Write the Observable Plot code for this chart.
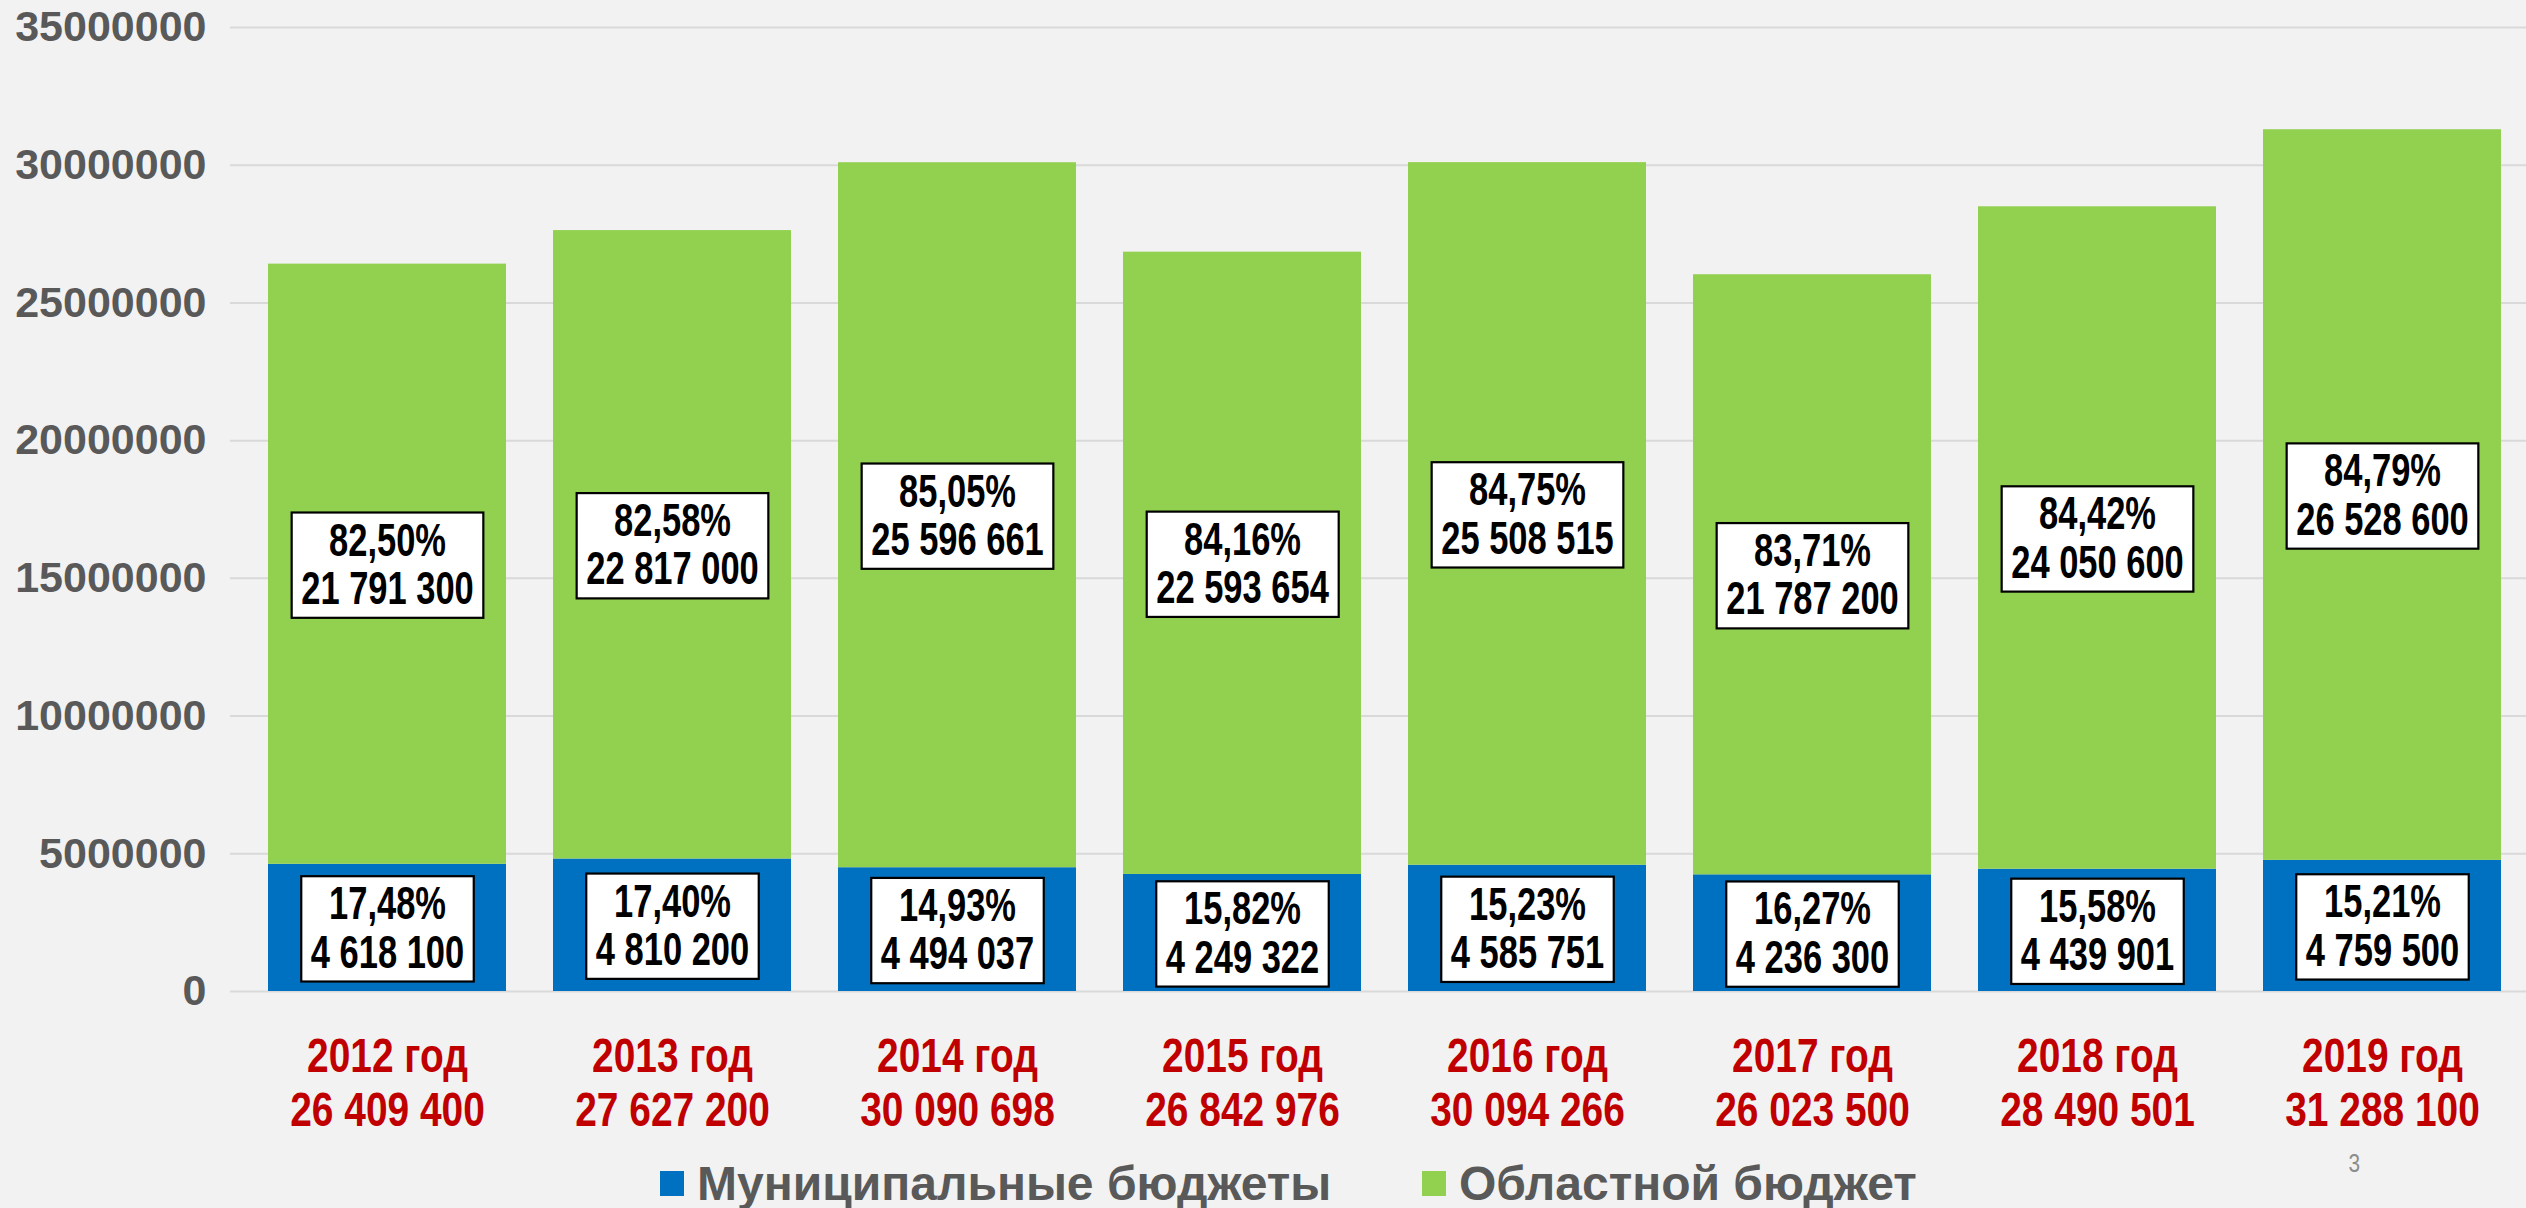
<!DOCTYPE html>
<html>
<head>
<meta charset="utf-8">
<script src="https://cdn.jsdelivr.net/npm/d3@7"></script>
<script src="https://cdn.jsdelivr.net/npm/@observablehq/plot@0.6"></script>
<style>
  html, body { margin: 0; padding: 0; background: #F2F2F2; }
  body { width: 2526px; height: 1208px; overflow: hidden; position: relative;
         font-family: "Liberation Sans", Arial, sans-serif; }
  #chart svg { display: block; background: #F2F2F2; }
  #chart g[aria-label="x-axis tick label"] { fill: #C00000; }
  #chart g[aria-label="y-axis tick label"] { fill: #595959; }
  #legend { position: absolute; left: 0; top: 1140px; width: 2526px; height: 68px; }
  .item { position: absolute; top: 0; display: flex; align-items: flex-start; }
  .sw { width: 24px; height: 25px; margin-top: 31px; margin-right: 13px; }
  .lt { font-size: 48px; font-weight: bold; color: #595959; line-height: 1; margin-top: 20px; white-space: nowrap; }
  #page { position: absolute; left: 2347px; top: 1148px; font-size: 26px; color: #8C8C8C; transform: scaleX(0.8); }
</style>
</head>
<body>
<div id="chart"></div>
<div id="legend">
  <div class="item" style="left:660px"><div class="sw" style="background:#0070C0"></div><div class="lt">Муниципальные бюджеты</div></div>
  <div class="item" style="left:1422px"><div class="sw" style="background:#92D050"></div><div class="lt">Областной бюджет</div></div>
</div>
<div id="page">3</div>
<script>
const years = ["2012", "2013", "2014", "2015", "2016", "2017", "2018", "2019"];
const seriesNames = ["Муниципальные бюджеты", "Областной бюджет"];
const municipal = [4618100, 4810200, 4494037, 4249322, 4585751, 4236300, 4439901, 4759500];
const regional = [21791300, 22817000, 25596661, 22593654, 25508515, 21787200, 24050600, 26528600];
const municipalPct = ["17,48%", "17,40%", "14,93%", "15,82%", "15,23%", "16,27%", "15,58%", "15,21%"];
const regionalPct = ["82,50%", "82,58%", "85,05%", "84,16%", "84,75%", "83,71%", "84,42%", "84,79%"];
const yTicks = [0, 5000000, 10000000, 15000000, 20000000, 25000000, 30000000, 35000000];
const colors = ["#0070C0", "#92D050"];

const ru = d3.formatLocale({decimal: ",", thousands: "\u00a0", grouping: [3], currency: ["", ""]});
const fmt = ru.format(",d");

const rows = years.flatMap((y, i) => [
  {year: y, part: seriesNames[0], value: municipal[i], pct: municipalPct[i]},
  {year: y, part: seriesNames[1], value: regional[i], pct: regionalPct[i]}
]);
const totals = new Map(years.map((y, i) => [y, municipal[i] + regional[i]]));

const W = 2526, H = 1140;
const plot = Plot.plot({
  width: W,
  height: H,
  marginLeft: 230,
  marginRight: 0,
  marginTop: 27,
  marginBottom: 149,
  style: {background: "#F2F2F2", fontFamily: '"Liberation Sans", Arial, sans-serif', color: "#595959"},
  x: {type: "band", domain: years, paddingInner: 0.166, paddingOuter: 0.083, insetLeft: 13, label: null},
  y: {domain: [0, 35000000], label: null},
  color: {domain: seriesNames, range: colors},
  marks: [
    Plot.ruleY(yTicks, {stroke: "#D9D9D9", strokeWidth: 2}),
    Plot.barY(rows, {x: "year", y: "value", fill: "part"}),
    Plot.text(rows, Plot.stackY({
      x: "year", y: "value",
      text: d => d.pct + "\n" + fmt(d.value),
      fontSize: 46, fontWeight: "bold", fill: "black", lineHeight: 1.05,
      lineAnchor: "middle"
    })),
    Plot.axisY({ticks: yTicks, tickFormat: d3.format("d"), tickSize: 0, tickPadding: 24,
      fontSize: 43, fontWeight: "bold"}),
    Plot.axisX({tickSize: 0, tickPadding: 42, fontSize: 48, fontWeight: "bold", lineHeight: 1.13,
      tickFormat: d => d + " год\n" + fmt(totals.get(d))})
  ]
});
document.getElementById("chart").appendChild(plot);

// condense text horizontally around its centre (narrow bold face in the original)
function condense(t, s) {
  const bb = t.getBBox();
  const cx = bb.x + bb.width / 2;
  const tr = t.getAttribute("transform") || "";
  t.setAttribute("transform", `${tr} translate(${cx},0) scale(${s},1) translate(${-cx},0)`);
  return {bb, cx, tr};
}

// value labels: condensed text on white boxes
const S = 0.75;
plot.querySelectorAll('g[aria-label="text"] text').forEach(t => {
  const {bb, cx, tr} = condense(t, S);
  const w = bb.width * S + 19;
  const r = document.createElementNS("http://www.w3.org/2000/svg", "rect");
  r.setAttribute("x", cx - w / 2);
  r.setAttribute("y", bb.y - 1);
  r.setAttribute("width", w);
  r.setAttribute("height", bb.height + 5);
  r.setAttribute("fill", "white");
  r.setAttribute("stroke", "black");
  r.setAttribute("stroke-width", 2.2);
  if (tr) r.setAttribute("transform", tr);
  t.parentNode.insertBefore(r, t);
});

// category labels
plot.querySelectorAll('g[aria-label="x-axis tick label"] text').forEach(t => condense(t, 0.81));
</script>
</body>
</html>
